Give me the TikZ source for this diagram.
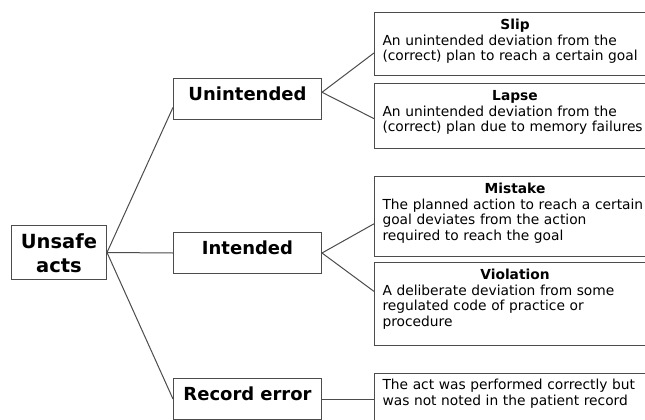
\documentclass[tikz,border=0pt]{standalone}
\usepackage{fontspec}
\setmainfont{DejaVu Sans}
\usetikzlibrary{calc}
\newcommand\hd[1]{\hbox to 265pt{\hss\bfseries #1\hss}}
\begin{document}
\begin{tikzpicture}[x=1pt,y=-1pt,
  conn/.style={draw=black!70, line width=1pt},
  catbox/.style={draw=black!70, line width=1pt, anchor=north west, inner xsep=0pt, inner ysep=0pt,
    text width=148pt, align=center, font=\fontsize{18}{22}\selectfont\bfseries,
    text height=22pt, text depth=19pt},
  descbox/.style={draw=black!70, line width=1pt, anchor=north west, inner xsep=8pt, inner ysep=0pt,
    text width=300pt, align=left, font=\fontsize{13.8}{15.6}\selectfont, text height=17pt}]
\useasboundingbox (0,0) rectangle (645,420);
\clip (0,0) rectangle (645,420);
\fill[white] (0,0) rectangle (645,420);

% category boxes
\node[catbox, text width=95pt, font=\fontsize{19.5}{23.4}\selectfont\bfseries,
      text height=23.3pt, text depth=30.7pt] (unsafe) at (11,225) {Unsafe\\acts};
\node[catbox] (unint) at (173,78) {Unintended};
\node[catbox] (int) at (173,232) {Intended};
\node[catbox] (rec) at (173,378) {Record error};

% description boxes
\node[descbox, text depth=46pt] (slip) at (374,12)
  {\hd{Slip}\\An unintended deviation from the\\(correct) plan to reach a certain goal};
\node[descbox, text height=17pt, text depth=48pt] (lapse) at (374,83)
  {\hd{Lapse}\\An unintended deviation from the\\(correct) plan due to memory failures};
\node[descbox, text height=17pt, text depth=63pt] (mistake) at (374,176)
  {\hd{Mistake}\\The planned action to reach a certain\\goal deviates from the action\\required to reach the goal};
\node[descbox, text height=17pt, text depth=66pt] (viol) at (374,262)
  {\hd{Violation}\\A deliberate deviation from some\\regulated code of practice or\\procedure};
\node[descbox, text height=16pt, text depth=38pt] (desc) at (374,373)
  {The act was performed correctly but\\was not noted in the patient record};

% connection points
\coordinate (unintW) at ($(unint.north west)!0.7!(unint.south west)$);
\coordinate (unintE) at ($(unint.north east)!0.34!(unint.south east)$);
\coordinate (slipW) at ($(slip.north west)!0.64!(slip.south west)$);
\coordinate (lapseW) at ($(lapse.north west)!0.54!(lapse.south west)$);
\coordinate (mistW) at ($(mistake.north west)!0.59!(mistake.south west)$);
\coordinate (violW) at ($(viol.north west)!0.35!(viol.south west)$);

% connectors
\draw[conn] (unsafe.east) -- (unintW);
\draw[conn] (unsafe.east) -- (int.west);
\draw[conn] (unsafe.east) -- (rec.west);
\draw[conn] (unintE) -- (slipW);
\draw[conn] (unintE) -- (lapseW);
\draw[conn] (int.east) -- (mistW);
\draw[conn] (int.east) -- (violW);
\draw[conn] (rec.east) -- (rec.east -| desc.west);
\end{tikzpicture}
\end{document}
